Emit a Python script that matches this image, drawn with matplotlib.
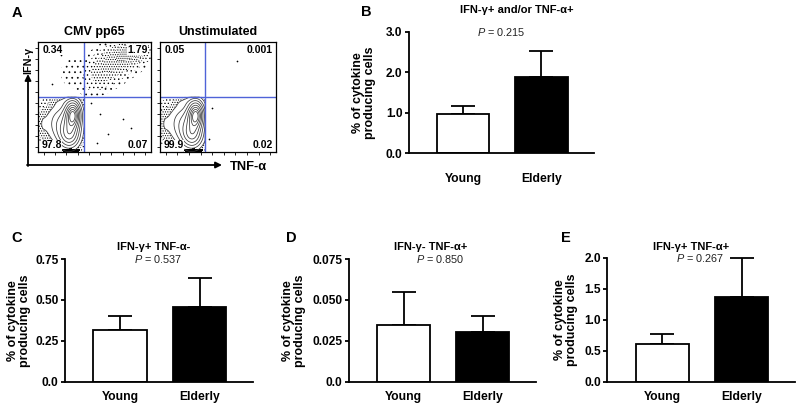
import numpy as np
import matplotlib
matplotlib.use("Agg")
import matplotlib.pyplot as plt

plt.rcParams['font.family'] = ['Liberation Sans', 'DejaVu Sans']
plt.rcParams['mathtext.fontset'] = 'custom'
plt.rcParams['mathtext.rm'] = 'Liberation Sans'
plt.rcParams['mathtext.it'] = 'Liberation Sans:italic'
plt.rcParams['hatch.linewidth'] = 0.5

# ---------------- data ----------------
groups = ['Young', 'Elderly']

b_mean = [0.97, 1.88]
b_err = [0.20, 0.65]
c_mean = [0.313, 0.455]
c_err = [0.087, 0.181]
d_mean = [0.0345, 0.0304]
d_err = [0.0202, 0.0099]
e_mean = [0.61, 1.37]
e_err = [0.16, 0.63]

b_ticks = [0, 1, 2, 3]
b_ticklabels = ['0.0', '1.0', '2.0', '3.0']
c_ticks = [0, 0.25, 0.5, 0.75]
c_ticklabels = ['0.0', '0.25', '0.50', '0.75']
d_ticks = [0, 0.025, 0.05, 0.075]
d_ticklabels = ['0.0', '0.025', '0.050', '0.075']
e_ticks = [0, 0.5, 1.0, 1.5, 2.0]
e_ticklabels = ['0.0', '0.5', '1.0', '1.5', '2.0']

titles = ['IFN-γ+ and/or TNF-α+', 'IFN-γ+ TNF-α-', 'IFN-γ- TNF-α+', 'IFN-γ+ TNF-α+']
pvalues = ['0.215', '0.537', '0.850', '0.267']

cmv_quadrants = ['0.34', '1.79', '97.8', '0.07']
unstim_quadrants = ['0.05', '0.001', '99.9', '0.02']

# flow populations (gaussian blobs: cx, cy, sx, sy, weight) in gate units 0..1
dn_cx = [0.31, 0.28, 0.22, 0.03, 0.22]
dn_cy = [0.34, 0.15, 0.26, 0.25, 0.46]
dn_sx = [0.045, 0.06, 0.10, 0.03, 0.10]
dn_sy = [0.08, 0.08, 0.12, 0.13, 0.03]
dn_w = [1.0, 0.55, 0.4, 0.07, 0.05]

pile_cx = [0.29]
pile_cy = [0.015]
pile_sx = [0.05]
pile_sy = [0.008]
pile_w = [1.0]

dp_cx = [0.86, 0.75, 0.63, 0.53, 0.29, 0.45]
dp_cy = [0.92, 0.86, 0.78, 0.69, 0.72, 0.58]
dp_sx = [0.08, 0.09, 0.09, 0.08, 0.08, 0.06]
dp_sy = [0.05, 0.07, 0.08, 0.08, 0.11, 0.05]
dp_w = [1.0, 0.7, 0.45, 0.25, 0.045, 0.05]

unstim_event_x = [0.66, 0.45, 0.42]
unstim_event_y = [0.83, 0.40, 0.12]
cmv_event_x = [0.55, 0.62, 0.47, 0.75, 0.52, 0.82, 0.12, 0.20]
cmv_event_y = [0.35, 0.16, 0.45, 0.30, 0.08, 0.22, 0.62, 0.88]

# ---------------- layout helpers ----------------
W, H = 800, 408
fig = plt.figure(figsize=(8, 4.08), dpi=100)


def rect(l, t, r, b):
    return [l / W, 1 - b / H, (r - l) / W, (b - t) / H]


def ftext(x, y, s, **kw):
    return fig.text(x / W, 1 - y / H, s, **kw)


def density(X, Y, cx, cy, sx, sy, w):
    Z = np.zeros_like(X)
    for a, b, c, d, e in zip(cx, cy, sx, sy, w):
        Z += e * np.exp(-0.5 * (((X - a) / c) ** 2 + ((Y - b) / d) ** 2))
    return Z


gx = np.linspace(0, 1, 300)
X, Y = np.meshgrid(gx, gx)
blue = '#4f63d8'


def flow_panel(r, title, quads, vq, hq, with_dp, ex, ey):
    ax = fig.add_axes(rect(*r))
    ax.set_xlim(0, 1)
    ax.set_ylim(0, 1)
    Zdn = density(X, Y, dn_cx, dn_cy, dn_sx, dn_sy, dn_w)
    Zdn = Zdn / Zdn.max()
    Zdn[(X > vq) | (Y > hq)] = 0
    ax.contourf(X, Y, Zdn, levels=[0.03, 0.06, 0.11], colors='none',
                hatches=['.....', '.......'])
    ax.contour(X, Y, Zdn, levels=[0.11, 0.2, 0.3, 0.42, 0.55, 0.68, 0.8, 0.9],
               colors='#3a3a3a', linewidths=0.55)
    Zp = density(X, Y, pile_cx, pile_cy, pile_sx, pile_sy, pile_w)
    ax.contourf(X, Y, Zp, levels=[0.3, 10], colors='black')
    if with_dp:
        Zdp = density(X, Y, dp_cx, dp_cy, dp_sx, dp_sy, dp_w)
        ax.contourf(X, Y, Zdp, levels=[0.025, 0.1, 0.25, 0.5, 0.85, 10], colors='none',
                    hatches=['...', '....', '......', '.......', '........'])
    ax.scatter(ex, ey, s=1.5, c='black', lw=0)
    ax.axvline(vq, color=blue, lw=1)
    ax.axhline(hq, color=blue, lw=1)
    ax.set_xticks(np.linspace(0.05, 0.95, 10))
    ax.set_yticks(np.linspace(0.05, 0.95, 10))
    ax.set_xticklabels([])
    ax.set_yticklabels([])
    ax.tick_params(length=2, width=0.6, direction='out')
    for s in ax.spines.values():
        s.set_linewidth(0.9)
    kw = dict(transform=ax.transAxes, fontsize=7.5, fontweight='bold')
    box = dict(facecolor='white', edgecolor='none', pad=0.3)
    ax.text(0.04, 0.93, quads[0], ha='left', va='center', bbox=box, **kw)
    ax.text(0.97, 0.93, quads[1], ha='right', va='center', bbox=box, **kw)
    ax.text(0.03, 0.06, quads[2], ha='left', va='center', bbox=box, **kw)
    ax.text(0.97, 0.06, quads[3], ha='right', va='center', bbox=box, **kw)
    cx = (r[0] + r[2]) / 2
    ftext(cx, 32, title, ha='center', va='center', fontsize=9, fontweight='bold')
    return ax


flow_panel((38, 42, 151, 152), 'CMV pp65', cmv_quadrants, 0.41, 0.50, True,
           cmv_event_x, cmv_event_y)
flow_panel((160, 42, 276, 152), 'Unstimulated', unstim_quadrants, 0.39, 0.50, False,
           unstim_event_x, unstim_event_y)

# axis arrows of panel A
ov = fig.add_axes([0, 0, 1, 1], zorder=-1)
ov.set_xlim(0, W)
ov.set_ylim(H, 0)
ov.axis('off')
ov.annotate('', xy=(28, 74), xytext=(28, 166),
            arrowprops=dict(arrowstyle='-|>', color='black', lw=1.3, mutation_scale=9,
                            shrinkA=0, shrinkB=0))
ov.annotate('', xy=(222, 165), xytext=(27, 165),
            arrowprops=dict(arrowstyle='-|>', color='black', lw=1.3, mutation_scale=9,
                            shrinkA=0, shrinkB=0))
ftext(248, 167, 'TNF-α', ha='center', va='center', fontsize=9.3, fontweight='bold')
ftext(28, 60, 'IFN-γ', ha='center', va='center', fontsize=7.8, fontweight='bold',
      rotation=90)


def bar_panel(r, means, errs, ticks, ticklabels, xpad, ylab_x, title, tpos, p, ppos):
    ax = fig.add_axes(rect(*r))
    x = np.arange(len(groups))
    ax.bar(x, means, width=0.67, color=['white', 'black'], edgecolor='black',
           linewidth=1.3, zorder=2)
    ax.errorbar(x, means, yerr=[np.zeros(len(errs)), errs], fmt='none', ecolor='black',
                elinewidth=1.3, capsize=8.6, capthick=1.3, zorder=1, clip_on=False)
    ax.set_xlim(-0.69, 1.67)
    ax.set_ylim(0, ticks[-1])
    for s in ['top', 'right']:
        ax.spines[s].set_visible(False)
    for s in ['left', 'bottom']:
        ax.spines[s].set_linewidth(1.3)
    ax.set_yticks(ticks)
    ax.set_yticklabels(ticklabels, fontweight='bold', fontsize=8.6)
    ax.tick_params(axis='y', length=3, width=1.3, pad=1.5)
    ax.set_xticks(x)
    ax.set_xticklabels(groups, fontweight='bold', fontsize=8.7)
    ax.tick_params(axis='x', length=0, pad=xpad)
    yc = (r[1] + r[3]) / 2
    ftext(ylab_x, yc, '% of cytokine\nproducing cells', ha='center', va='center',
          rotation=90, fontsize=9, fontweight='bold', linespacing=1.05)
    ftext(tpos[0], tpos[1], title, ha='center', va='center', fontsize=8, fontweight='bold')
    ftext(ppos[0], ppos[1], '$P$ = ' + p, ha='center', va='center', fontsize=7.8,
          color='#222222')
    return ax


bar_panel((409, 31.7, 594, 153.3), b_mean, b_err, b_ticks, b_ticklabels, 14, 364,
          titles[0], (516.5, 10), pvalues[0], (501, 32))
bar_panel((65, 259, 253, 381.7), c_mean, c_err, c_ticks, c_ticklabels, 6.5, 19,
          titles[1], (153.3, 247), pvalues[1], (158.3, 259))
bar_panel((349, 259, 536, 381.7), d_mean, d_err, d_ticks, d_ticklabels, 6.5, 294,
          titles[2], (430.8, 247), pvalues[2], (440, 259))
bar_panel((607.3, 258, 795, 381.7), e_mean, e_err, e_ticks, e_ticklabels, 6.5, 566,
          titles[3], (690.8, 247), pvalues[3], (700, 258))

for letter, (x, y) in zip('ABCDE', [(17, 13), (366, 12.5), (17, 238), (291, 238), (566, 238)]):
    ftext(x, y, letter, ha='center', va='center', fontsize=10.5, fontweight='bold')

fig.savefig('out.png', dpi=100)
